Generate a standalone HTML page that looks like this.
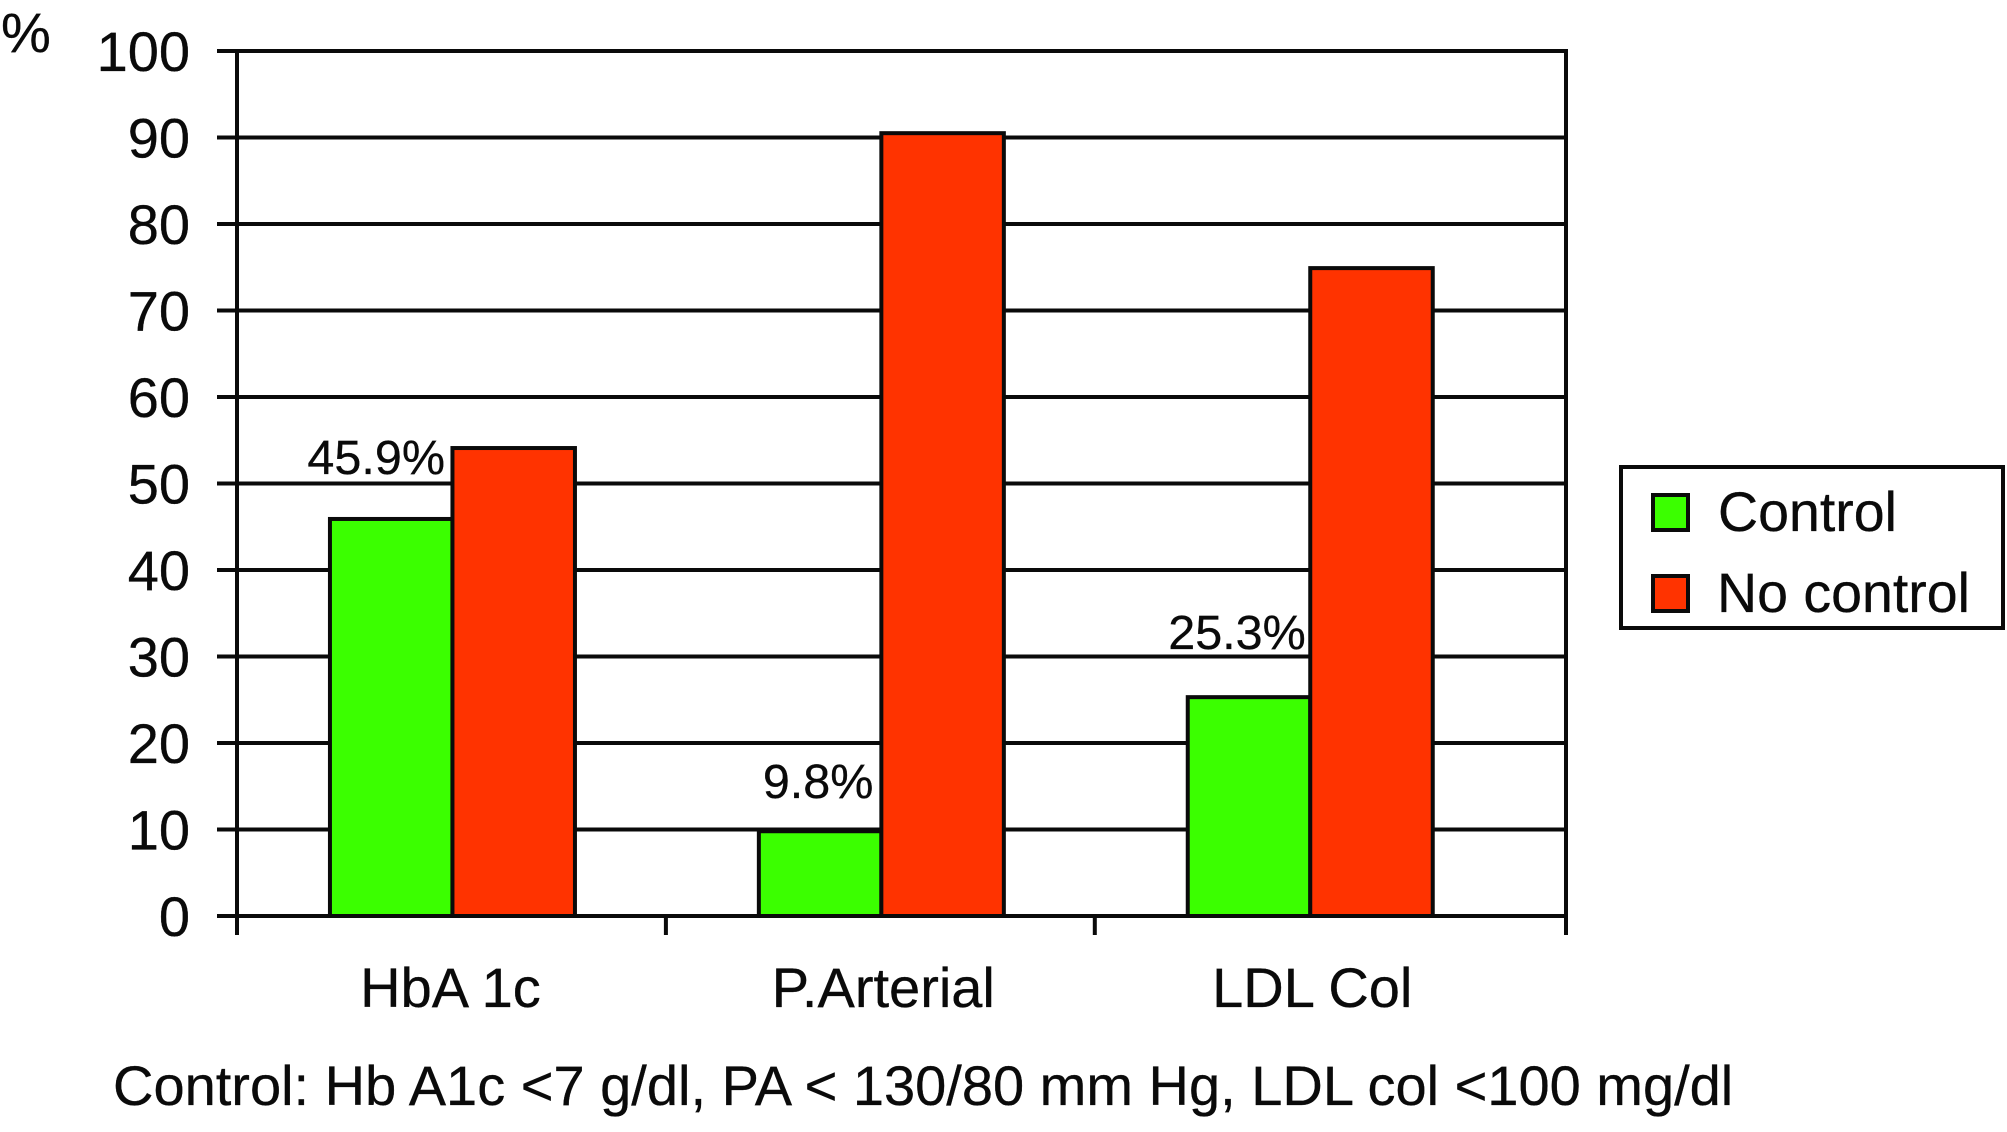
<!DOCTYPE html>
<html lang="en">
<head>
<meta charset="utf-8">
<title>Control vs No control</title>
<style>
html,body{margin:0;padding:0;background:#fff;width:2007px;height:1132px;overflow:hidden}
svg{display:block}
text{font-family:"Liberation Sans",sans-serif;fill:#0a0a0a;stroke:#0a0a0a;stroke-width:0.3px}
</style>
</head>
<body>
<svg id="chart" xmlns="http://www.w3.org/2000/svg" width="2007" height="1132" viewBox="0 0 2007 1132"></svg>
<script>
const categories = ['HbA 1c', 'P.Arterial', 'LDL Col'];
const controlValues = [45.9, 9.8, 25.3];
const noControlValues = [54.1, 90.5, 74.9];
const controlLabels = ['45.9%', '9.8%', '25.3%'];
const yTickValues = [0, 10, 20, 30, 40, 50, 60, 70, 80, 90, 100];

const layout = {left: 237, right: 1566, top: 51, bottom: 916, step: 428.9, barWidth: 122.5, barShift: 1};
const labelNudgeX = [-15, -2, -12];
const labelGap = [45, 33, 48];
const catNudgeX = [-1, 3, 3];
const GREEN = '#3bff00';
const RED = '#ff3300';
const INK = '#0a0a0a';

const svg = document.getElementById('chart');
const NS = 'http://www.w3.org/2000/svg';
function make(tag, attrs, text) {
  const el = document.createElementNS(NS, tag);
  for (const k in attrs) el.setAttribute(k, attrs[k]);
  if (text !== undefined) el.textContent = text;
  svg.appendChild(el);
  return el;
}
function yScale(v) { return layout.bottom - (v / 100) * (layout.bottom - layout.top); }
function xBand(i) { return layout.left + layout.step * i; }
function xCenter(i) { return xBand(i) + layout.step / 2; }

// horizontal gridlines and y tick marks, with y labels
yTickValues.forEach(function (v) {
  const y = yScale(v);
  const line = make('line', {x1: 217, x2: layout.right, y1: y, y2: y, stroke: INK, 'stroke-width': 4});
  
  
  const lab = make('text', {x: 190, y: y + 20, 'font-size': 56, 'text-anchor': 'end'}, String(v));
  
  
});

// plot frame verticals
const axisL = make('line', {x1: layout.left, x2: layout.left, y1: layout.top - 2, y2: 935, stroke: INK, 'stroke-width': 4});


const axisR = make('line', {x1: layout.right, x2: layout.right, y1: layout.top - 2, y2: 935, stroke: INK, 'stroke-width': 4});



// x ticks between categories
categories.forEach(function (c, i) {
  if (i === 0) return;
  const t = make('line', {x1: xBand(i), x2: xBand(i), y1: layout.bottom, y2: 935, stroke: INK, 'stroke-width': 4});
  
  
});

// bars, data labels, category labels
categories.forEach(function (c, i) {
  const cx = xCenter(i) + layout.barShift;
  const yC = yScale(controlValues[i]);
  const yN = yScale(noControlValues[i]);
  const g = make('rect', {x: cx - layout.barWidth, y: yC, width: layout.barWidth, height: layout.bottom - yC, fill: GREEN, stroke: INK, 'stroke-width': 4});
  
  
  const r = make('rect', {x: cx, y: yN, width: layout.barWidth, height: layout.bottom - yN, fill: RED, stroke: INK, 'stroke-width': 4});
  
  
  const lab = make('text', {x: cx - layout.barWidth / 2 + labelNudgeX[i], y: yC - labelGap[i], 'font-size': 48.5, 'text-anchor': 'middle'}, controlLabels[i]);
  
  
  const cat = make('text', {x: cx + catNudgeX[i] - 1, y: 1007, 'font-size': 56, 'text-anchor': 'middle'}, c);
  
  
});

// axis unit
const unit = make('text', {x: 1, y: 52, 'font-size': 56}, '%');



// legend
const box = make('rect', {x: 1621, y: 467, width: 382, height: 161, fill: '#fff', stroke: INK, 'stroke-width': 4});


const sw1 = make('rect', {x: 1653, y: 495, width: 35, height: 35, fill: GREEN, stroke: INK, 'stroke-width': 4});


const lt1 = make('text', {x: 1718, y: 531, 'font-size': 55.5}, 'Control');


const sw2 = make('rect', {x: 1653, y: 576, width: 35, height: 35, fill: RED, stroke: INK, 'stroke-width': 4});


const lt2 = make('text', {x: 1717, y: 612, 'font-size': 55.5}, 'No control');



// footnote
const note = make('text', {x: 113, y: 1105, 'font-size': 56}, 'Control: Hb A1c <7 g/dl, PA < 130/80 mm Hg, LDL col <100 mg/dl');


</script>
</body>
</html>
